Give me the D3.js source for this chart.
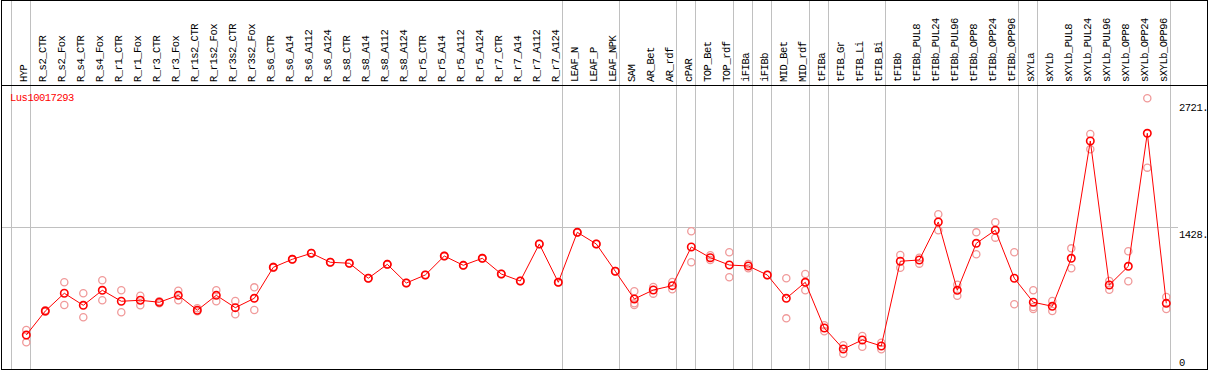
<!DOCTYPE html>
<html lang="en">
<head>
    <meta charset="UTF-8">
    <title>Lus10017293 expression profile</title>
    <script src="https://d3js.org/d3.v7.min.js"></script>
    <style>
        body { margin: 0; background: #fff; }
        svg { display: block; }
        text { font-family: "Liberation Mono", "DejaVu Sans Mono", monospace; font-size: 10.5px; letter-spacing: -0.5px; }
        .grid { stroke: #c0c0c0; stroke-width: 1px; }
        .frame { stroke: #000; stroke-width: 1px; fill: none; }
    </style>
</head>
<body>
    <script>
        // Sample names along the x axis
        const samples = ["HYP", "R_s2_CTR", "R_s2_Fox", "R_s4_CTR", "R_s4_Fox", "R_r1_CTR", "R_r1_Fox",
            "R_r3_CTR", "R_r3_Fox", "R_r1s2_CTR", "R_r1s2_Fox", "R_r3s2_CTR", "R_r3s2_Fox",
            "R_s6_CTR", "R_s6_A14", "R_s6_A112", "R_s6_A124", "R_s8_CTR", "R_s8_A14", "R_s8_A112", "R_s8_A124",
            "R_r5_CTR", "R_r5_A14", "R_r5_A112", "R_r5_A124", "R_r7_CTR", "R_r7_A14", "R_r7_A112", "R_r7_A124",
            "LEAF_N", "LEAF_P", "LEAF_NPK", "SAM", "AR_Bet", "AR_rdf", "cPAR", "TOP_Bet", "TOP_rdf",
            "iFIBa", "iFIBb", "MID_Bet", "MID_rdf", "tFIBa", "tFIB_Gr", "tFIB_Li", "tFIB_Bi", "tFIBb",
            "tFIBb_PUL8", "tFIBb_PUL24", "tFIBb_PUL96", "tFIBb_OPP8", "tFIBb_OPP24", "tFIBb_OPP96",
            "sXYLa", "sXYLb", "sXYLb_PUL8", "sXYLb_PUL24", "sXYLb_PUL96", "sXYLb_OPP8", "sXYLb_OPP24", "sXYLb_OPP96"];

        // Mean expression per sample
        const means = [344, 587, 767, 645, 797, 686, 696, 676, 746, 595, 746, 621, 716,
            1030, 1111, 1172, 1081, 1071, 919, 1060, 871, 952, 1144, 1050, 1121, 962, 891, 1266, 878,
            1384, 1266, 990, 709, 800, 844, 1236, 1127, 1053, 1043, 952, 716, 878,
            415, 203, 294, 233, 1091, 1104, 1489, 797, 1273, 1405, 919,
            676, 635, 1121, 2309, 851, 1040, 2387, 665];

        // Replicate values per sample
        const replicates = [[395, 270], [580, 595], [878, 648], [767, 524], [898, 696], [797, 574], [742, 645],
            [686, 665], [793, 696], [615, 584], [797, 686], [689, 554], [827, 598],
            [1025, 1035], [1108, 1114], [1170, 1175], [1078, 1084], [1068, 1074], [916, 922], [1057, 1063], [868, 874],
            [949, 955], [1141, 1147], [1047, 1053], [1118, 1124], [959, 965], [888, 894], [1263, 1269], [875, 881],
            [1381, 1387], [1263, 1269], [987, 993], [787, 665, 648], [830, 763], [881, 807], [1395, 1081],
            [1152, 1104], [1182, 929], [1063, 1020], [949, 955], [919, 513], [962, 797],
            [443, 382], [240, 155], [334, 226], [266, 200], [1155, 1026], [1127, 1067], [1567, 1405],
            [854, 742], [1384, 1162], [1486, 1330], [1182, 655],
            [797, 628, 608], [689, 587], [1222, 1020], [2380, 2225], [891, 803], [1192, 888], [2742, 2039], [729, 608]];

        // Index of the last sample in each group (vertical separators), -1 = left start
        const groupEnds = [-1, 0, 28, 31, 34, 35, 37, 38, 39, 41, 42, 45, 52, 53, 60];

        // Right-hand value labels
        const yTicks = [2721, 1428, 0];
        const geneName = "Lus10017293";

        const width = 1209, height = 370;
        const headerBottom = 85, plotBottom = 369, plotRight = 1207;

        const svg = d3.select("body").append("svg")
            .attr("width", width)
            .attr("height", height);

        const x = d3.scaleLinear().domain([0, samples.length - 1]).range([26.3, 1166.3]);
        const y = d3.scaleLinear().domain([0, 2721]).range([plotBottom, 100.3]);

        const crisp = v => Math.floor(v) + 0.5;

        // vertical group separators
        svg.selectAll(".vgrid")
           .data(groupEnds)
           .enter()
           .append("line")
           .attr("class", "grid")
           .attr("x1", d => crisp(x(d) + 4.4))
           .attr("x2", d => crisp(x(d) + 4.4))
           .attr("y1", 0)
           .attr("y2", plotBottom);

        // horizontal middle line
        svg.append("line")
           .attr("class", "grid")
           .attr("x1", 1)
           .attr("x2", 1178)
           .attr("y1", crisp(y(yTicks[1])))
           .attr("y2", crisp(y(yTicks[1])));

        // frame and header separator
        svg.append("rect")
           .attr("class", "frame")
           .attr("x", 1.5)
           .attr("y", 0.5)
           .attr("width", plotRight - 1)
           .attr("height", plotBottom);
        svg.append("line")
           .attr("class", "frame")
           .attr("x1", 1)
           .attr("x2", plotRight + 1)
           .attr("y1", headerBottom + 0.5)
           .attr("y2", headerBottom + 0.5);

        // sample labels, rotated
        svg.selectAll(".label")
           .data(samples)
           .enter()
           .append("text")
           .attr("transform", (d, i) => `translate(${x(i) + 0.6},82) rotate(-90)`)
           .attr("fill", "#000")
           .text(d => d);

        // value labels on the right
        svg.selectAll(".ytick")
           .data(yTicks)
           .enter()
           .append("text")
           .attr("x", 1179)
           .attr("y", d => Math.min(y(d) + 3, 359))
           .attr("dominant-baseline", "hanging")
           .attr("fill", "#000")
           .text(d => d === 0 ? "0" : d + ".");

        // gene name
        svg.append("text")
           .attr("x", 10)
           .attr("y", 101)
           .attr("fill", "#ff0000")
           .text(geneName);

        // replicate circles
        const reps = replicates.flatMap((arr, i) => arr.map(v => ({i, v})));
        svg.selectAll(".rep")
           .data(reps)
           .enter()
           .append("circle")
           .attr("cx", d => x(d.i))
           .attr("cy", d => y(d.v))
           .attr("r", 3.6)
           .attr("fill", "none")
           .attr("stroke", "#f09a9a")
           .attr("stroke-width", 1.3);

        // mean line
        const line = d3.line()
            .x((d, i) => x(i))
            .y(d => y(d));
        svg.append("path")
           .datum(means)
           .attr("d", line)
           .attr("fill", "none")
           .attr("stroke", "#ff0000")
           .attr("stroke-width", 1);

        // mean circles
        svg.selectAll(".mean")
           .data(means)
           .enter()
           .append("circle")
           .attr("cx", (d, i) => x(i))
           .attr("cy", d => y(d))
           .attr("r", 3.7)
           .attr("fill", "none")
           .attr("stroke", "#ff0000")
           .attr("stroke-width", 1.6);
    </script>
</body>
</html>
